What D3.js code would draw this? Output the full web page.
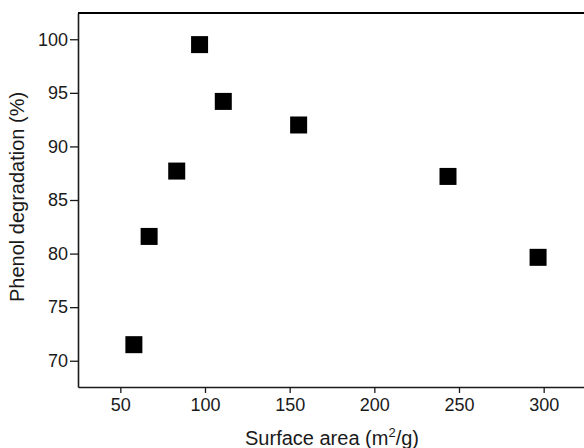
<!DOCTYPE html>
<html>
<head>
<meta charset="utf-8">
<script src="https://cdn.jsdelivr.net/npm/d3@7"></script>
<style>
  body { margin: 0; background: #fff; }
  svg { display: block; font-family: "Liberation Sans", Arial, sans-serif; }
</style>
</head>
<body>
<svg id="chart"></svg>
<script>
// surface area (m2/g) vs phenol degradation (%)
const surfaceArea = [58, 67, 83.3, 96.8, 110.8, 155.3, 243.5, 296.7];
const degradation = [71.5, 81.6, 87.7, 99.5, 94.2, 92.0, 87.2, 79.65];
const xTicks = [50, 100, 150, 200, 250, 300];
const yTicks = [70, 75, 80, 85, 90, 95, 100];

const WIDTH = 584, HEIGHT = 448;
const plotLeft = 78, plotRight = 586, plotTop = 13, plotBottom = 387;

const svg = d3.select("#chart").attr("width", WIDTH).attr("height", HEIGHT);

const x = d3.scaleLinear().domain([25, 325]).range([plotLeft, plotRight]);
const y = d3.scaleLinear().domain([67.55, 102.45]).range([plotBottom, plotTop]);

// minor ticks at half steps
const xMinor = d3.range(25, 326, 25).filter(v => v % 50 !== 0);
const yMinor = d3.range(67.5, 103, 5);

const xAxis = svg.append("g").attr("transform", `translate(0,${plotBottom})`);
xAxis.call(d3.axisBottom(x).tickValues(xMinor).tickSize(4).tickFormat(""));
xAxis.call(d3.axisBottom(x).tickValues(xTicks).tickSize(6).tickSizeOuter(0).tickPadding(5));

const yAxis = svg.append("g").attr("transform", `translate(${plotLeft},0)`);
yAxis.call(d3.axisLeft(y).tickValues(yMinor).tickSize(5).tickFormat(""));
yAxis.call(d3.axisLeft(y).tickValues(yTicks).tickSize(8).tickSizeOuter(0).tickPadding(2));

svg.selectAll(".domain").attr("stroke", "#1a1a1a").attr("stroke-width", 1.6);
svg.selectAll(".tick line").attr("stroke", "#1a1a1a").attr("stroke-width", 1.3);
svg.selectAll(".tick text").attr("font-size", 18).attr("fill", "#1a1a1a")
  .attr("font-family", "Liberation Sans, Arial, sans-serif");

// top frame line
svg.append("line")
  .attr("x1", plotLeft).attr("x2", WIDTH)
  .attr("y1", plotTop).attr("y2", plotTop)
  .attr("stroke", "#000").attr("stroke-width", 2);

// points
svg.append("g").selectAll("rect")
  .data(surfaceArea.map((d, i) => [d, degradation[i]]))
  .join("rect")
  .attr("x", d => x(d[0]) - 8.5)
  .attr("y", d => y(d[1]) - 8.5)
  .attr("width", 17).attr("height", 17)
  .attr("fill", "#000");

// axis titles
const xt = svg.append("text")
  .attr("x", (plotLeft + plotRight) / 2).attr("y", 445)
  .attr("text-anchor", "middle").attr("font-size", 20).attr("fill", "#1a1a1a");
xt.append("tspan").text("Surface area (m");
xt.append("tspan").text("2").attr("font-size", 13).attr("dy", -8);
xt.append("tspan").text("/g)").attr("dy", 8);

svg.append("text")
  .attr("transform", `translate(23.5,${(plotTop + plotBottom) / 2 - 3}) rotate(-90)`)
  .attr("text-anchor", "middle").attr("font-size", 20).attr("fill", "#1a1a1a")
  .text("Phenol degradation (%)");
</script>
</body>
</html>
